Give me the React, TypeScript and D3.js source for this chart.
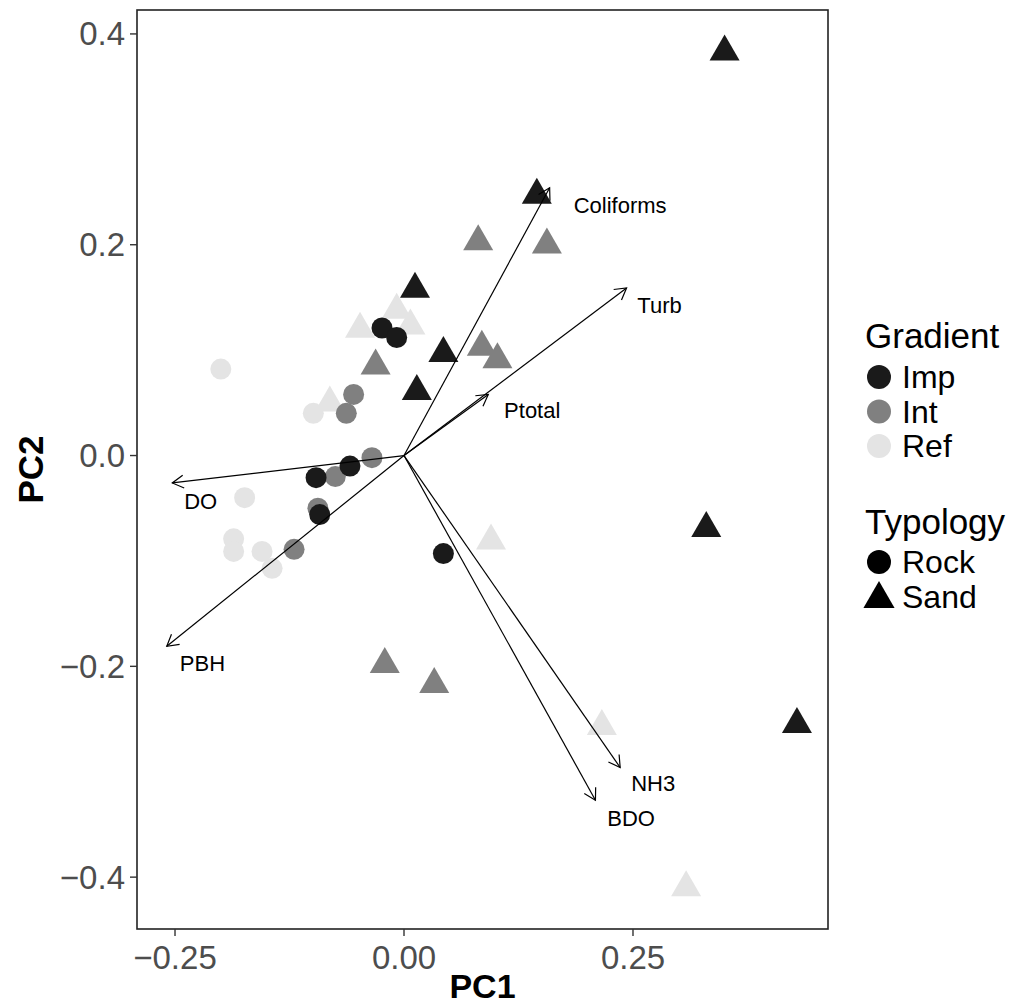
import React from 'react';
import * as d3 from 'd3';

// site scores, grouped by gradient / typology
const siteGradient = [
  'Ref', 'Ref', 'Ref', 'Ref', 'Ref', 'Ref', 'Ref',
  'Ref', 'Ref', 'Ref', 'Ref', 'Ref', 'Ref', 'Ref',
  'Int', 'Int', 'Int', 'Int', 'Int', 'Int', 'Int',
  'Int', 'Int', 'Int', 'Int', 'Int', 'Int',
  'Imp', 'Imp', 'Imp', 'Imp', 'Imp', 'Imp', 'Imp',
  'Imp', 'Imp', 'Imp', 'Imp', 'Imp', 'Imp',
];
const siteTypology = [
  'Sand', 'Sand', 'Sand', 'Sand', 'Sand', 'Sand', 'Sand',
  'Rock', 'Rock', 'Rock', 'Rock', 'Rock', 'Rock', 'Rock',
  'Sand', 'Sand', 'Sand', 'Sand', 'Sand', 'Sand', 'Sand',
  'Rock', 'Rock', 'Rock', 'Rock', 'Rock', 'Rock',
  'Sand', 'Sand', 'Sand', 'Sand', 'Sand', 'Sand', 'Sand',
  'Rock', 'Rock', 'Rock', 'Rock', 'Rock', 'Rock',
];
const sitePC1 = [
  -0.048, -0.008, 0.007, -0.081, 0.095, 0.216, 0.308,
  -0.200, -0.099, -0.174, -0.186, -0.186, -0.155, -0.144,
  0.081, 0.156, -0.031, 0.085, 0.102, -0.021, 0.033,
  -0.055, -0.063, -0.035, -0.075, -0.094, -0.120,
  0.350, 0.145, 0.012, 0.043, 0.014, 0.330, 0.429,
  -0.024, -0.008, -0.059, -0.096, -0.092, 0.043,
];
const sitePC2 = [
  0.120, 0.138, 0.123, 0.050, -0.081, -0.257, -0.410,
  0.082, 0.040, -0.040, -0.079, -0.091, -0.091, -0.107,
  0.203, 0.200, 0.085, 0.103, 0.091, -0.198, -0.217,
  0.058, 0.040, -0.002, -0.020, -0.050, -0.089,
  0.383, 0.247, 0.158, 0.097, 0.061, -0.069, -0.255,
  0.121, 0.112, -0.010, -0.021, -0.056, -0.093,
];

// variable loadings and where their labels sit
const varNames = ['Coliforms', 'Turb', 'Ptotal', 'DO', 'PBH', 'NH3', 'BDO'];
const varPC1 = [0.159, 0.243, 0.092, -0.253, -0.259, 0.236, 0.209];
const varPC2 = [0.254, 0.159, 0.058, -0.026, -0.181, -0.296, -0.327];
const labelPC1 = [0.236, 0.279, 0.140, -0.222, -0.220, 0.272, 0.248];
const labelPC2 = [0.237, 0.142, 0.043, -0.044, -0.197, -0.311, -0.344];

const xTicks = [-0.25, 0, 0.25];
const yTicks = [-0.4, -0.2, 0, 0.2, 0.4];

const gradientLevels = ['Imp', 'Int', 'Ref'];
const gradientColors = ['#1a1a1a', '#808080', '#e4e4e4'];
const typologyLevels = ['Rock', 'Sand'];

const FONT = '"Liberation Sans", Arial, sans-serif';

const App = () => {
  const W = 1011, H = 1007;
  const left = 137, right = 828, top = 10, bottom = 929;

  const x = d3.scaleLinear().domain([-0.2915, 0.4629]).range([left, right]);
  const y = d3.scaleLinear().domain([-0.4492, 0.4227]).range([bottom, top]);
  const color = d3.scaleOrdinal<string, string>().domain(gradientLevels).range(gradientColors);

  const triPath = d3.symbol().type(d3.symbolTriangle).size(390)()!;
  const legendTri = d3.symbol().type(d3.symbolTriangle).size(420)()!;
  const r = 10.5;

  const fmtX = (v: number) => v.toFixed(2).replace('-', '\u2212');
  const fmtY = (v: number) => v.toFixed(1).replace('-', '\u2212');

  const x0 = x(0), y0 = y(0);

  return (
    <svg width={W} height={H} style={{ position: 'absolute', left: 0, top: 0, background: '#fff' }}
      fontFamily={FONT}>
      <rect x={0} y={0} width={W} height={H} fill="#fff" />

      {/* points */}
      {sitePC1.map((v, i) => {
        const cx = x(v), cy = y(sitePC2[i]);
        const fill = color(siteGradient[i]);
        return siteTypology[i] === 'Rock'
          ? <circle key={i} cx={cx} cy={cy} r={r} fill={fill} />
          : <path key={i} d={triPath} transform={`translate(${cx},${cy})`} fill={fill} />;
      })}

      {/* loading arrows */}
      {varNames.map((name, i) => {
        const ex = x(varPC1[i]), ey = y(varPC2[i]);
        const ang = Math.atan2(ey - y0, ex - x0);
        const len = 13, spread = Math.PI / 6;
        const a1 = ang + Math.PI - spread, a2 = ang + Math.PI + spread;
        return (
          <g key={name} stroke="#000" strokeWidth={1.2} fill="none">
            <line x1={x0} y1={y0} x2={ex} y2={ey} />
            <polyline points={`${ex + len * Math.cos(a1)},${ey + len * Math.sin(a1)} ${ex},${ey} ${ex + len * Math.cos(a2)},${ey + len * Math.sin(a2)}`} />
          </g>
        );
      })}
      {varNames.map((name, i) => (
        <text key={name} x={x(labelPC1[i])} y={y(labelPC2[i])} textAnchor="middle" dominantBaseline="central"
          fontSize={22} fill="#000">{name}</text>
      ))}

      {/* panel border */}
      <rect x={left} y={top} width={right - left} height={bottom - top} fill="none" stroke="#222" strokeWidth={1.6} />

      {/* axes */}
      {xTicks.map(t => (
        <g key={t}>
          <line x1={x(t)} x2={x(t)} y1={bottom} y2={bottom + 7} stroke="#333" strokeWidth={1.4} />
          <text x={x(t)} y={bottom + 28} textAnchor="middle" dominantBaseline="central" fontSize={33} fill="#4d4d4d">{fmtX(t)}</text>
        </g>
      ))}
      {yTicks.map(t => (
        <g key={t}>
          <line x1={left - 7} x2={left} y1={y(t)} y2={y(t)} stroke="#333" strokeWidth={1.4} />
          <text x={left - 12} y={y(t)} textAnchor="end" dominantBaseline="central" fontSize={33} fill="#4d4d4d">{fmtY(t)}</text>
        </g>
      ))}
      <text x={(left + right) / 2} y={998} textAnchor="middle" fontSize={34} fontWeight="bold">PC1</text>
      <text transform={`translate(30,${(top + bottom) / 2}) rotate(-90)`} textAnchor="middle" dominantBaseline="central"
        fontSize={35} fontWeight="bold">PC2</text>

      {/* legends */}
      <text x={865} y={348} fontSize={35}>Gradient</text>
      {gradientLevels.map((g, i) => (
        <g key={g}>
          <circle cx={879} cy={377 + i * 34.5} r={12} fill={color(g)} />
          <text x={902} y={388 + i * 34.5} fontSize={32}>{g}</text>
        </g>
      ))}
      <text x={865} y={534} fontSize={35}>Typology</text>
      {typologyLevels.map((t, i) => (
        <g key={t}>
          {t === 'Rock'
            ? <circle cx={879} cy={562} r={12} fill="#000" />
            : <path d={legendTri} transform={`translate(879,${562 + 37})`} fill="#000" />}
          <text x={902} y={573 + i * 34.5} fontSize={32}>{t}</text>
        </g>
      ))}
    </svg>
  );
};

export default App;
